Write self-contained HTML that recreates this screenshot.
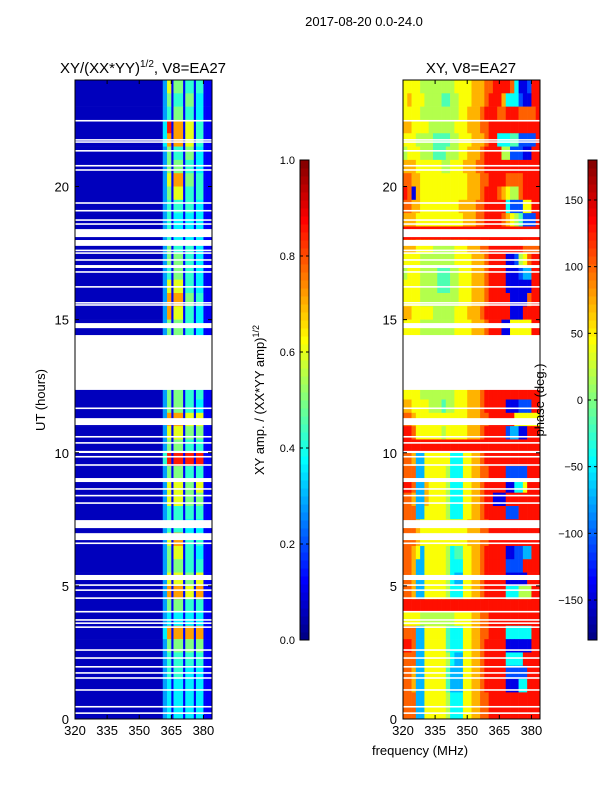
<!DOCTYPE html>
<html><head><meta charset="utf-8">
<style>
body{margin:0;background:#fff;}
svg text{font-family:"Liberation Sans",sans-serif;fill:#000;}
</style></head>
<body>
<svg id="fig" xmlns="http://www.w3.org/2000/svg" width="600" height="800" viewBox="0 0 600 800">
<rect width="600" height="800" fill="#fff"/>
<text x="364" y="26" font-size="13" text-anchor="middle">2017-08-20 0.0-24.0</text>
<text x="143" y="73" font-size="15" text-anchor="middle">XY/(XX*YY)<tspan font-size="10" dy="-6">1/2</tspan><tspan dy="6">, V8=EA27</tspan></text>
<text x="471" y="73" font-size="15" text-anchor="middle">XY, V8=EA27</text>
<text x="0" y="0" font-size="13" text-anchor="middle" transform="translate(45,400) rotate(-90)">UT (hours)</text>
<text x="420" y="755" font-size="13" text-anchor="middle">frequency (MHz)</text>
<text x="0" y="0" font-size="13" text-anchor="middle" transform="translate(264,400) rotate(-90)">XY amp. / (XX*YY amp)<tspan font-size="9" dy="-5">1/2</tspan></text>
<g id="ampPanel"></g>
<g id="phasePanel"></g>
<g id="cbars"></g>
<text x="0" y="0" font-size="13" text-anchor="middle" transform="translate(544,400) rotate(-90)">phase (deg.)</text>
</svg>
<script>
// ---- data ----
const ampFreqEdges = [320,361,363,365,366,370.5,371.5,375.5,376.5,380,381,384];
const ampRows = [ // top (23.5-24h) to bottom (0-0.5h), digit code
"03716151511","03615161411","03516151411","04918171511","04818171511","03615161411",
"03616151411","03718161511","03617151511","03515151411","03514141411","03514141411",
"03615151411","03616151411","03516151411","03717151411","03818161511","03817151411",
"03616151411","03616151411","03616151411","03616151411","03617151611","03616151511",
"03616151411","03818171711","03717161611","03616151511","05919191911","03616151511",
"03717161711","03717161611","03515151511","03515141411","03718151511","03617151411",
"03616151511","03717161711","03818171811","03616151511","03414141411","04818181811",
"03616161611","03515151511","03515141411","03414141411","03414141411","03414141411"];
const phaseRows = [ // 2 MHz channels 320-384, digit code of phase
"66665555555566667778899998300199","67666555544556667778999733310099","66665555555556677789998899988889",
"77666655555566677788999999999999","66655554444556667778993334411119","56665554445556677789999551110099",
"77766666655666777889999999999999","88776666666666677788999988889999","98076666666666677789998765589999",
"88776666666667777889999931116699","77766666666666777889999876541119","99999999999999999999999999999999",
"77766665555566677788999999998888","66665555555566667778999900156899","56665555444556667778999900012299",
"66665555444556667778999900000099","66665555555556667778999990000899","77666665555566677789999990009999",
"66665555555566667778999006666699","66665555555566667778999006666699","66665555555566667778999006666699",
"66665555555566667778999006666699","66665555555566667778999006666699","66665555555566677789999999999999",
"77666655545566677789999900011199","88766666666666677788999999666666","99866666656666677789999912200999",
"99999999999999999999999999999999","88722666666333667789999999999999","88822666665333667788999911111999",
"99822766665333667789999900336999","88722766665333667789900099999999","88822666665333667789999911199999",
"88876666666666677788999999999999","88876666666666677788999999999999","88762666665344667789999900112299",
"88722666665333667789999911119999","88722666665322667789999900000999","88722666665333667789999933355599",
"99999999999999999999999999999999","66665555555566667788999999999999","88822666664333667788999933333399",
"99822666664333667789999900000099","88822666665322667789999933339999","88722666664222667789999911111999",
"88722666664222667789999900033999","88822666665333667788999999999999","88822666665333667788999999999999"];
const flags = [[22.44,22.5],[21.72,21.78],[21.64,21.7],[21.31,21.37],[20.75,20.81],[20.59,20.65],
[19.35,19.41],[19.06,19.12],[18.71,18.77],[18.56,18.62],[18.1,18.4],[17.77,17.99],[17.57,17.63],
[17.47,17.53],[17.21,17.27],[16.94,17.05],[16.76,16.82],[16.2,16.26],[15.6,15.66],[15.52,15.58],
[14.68,14.87],[12.36,14.42],[11.64,11.7],[11.04,11.3],[10.57,10.63],[10.34,10.4],[9.99,10.07],
[9.82,9.88],[9.51,9.57],[8.9,9.05],[8.61,8.67],[8.36,8.42],[8.08,8.14],[7.17,7.47],[6.72,6.98],
[6.57,6.63],[5.22,5.41],[5.0,5.06],[4.81,4.87],[4.51,4.57],[4.0,4.06],[3.69,3.75],[3.57,3.63],
[3.42,3.48],[2.56,2.62],[2.26,2.32],[1.93,1.99],[1.7,1.76],[1.51,1.57],[1.06,1.12],[0.43,0.49],[0.19,0.25]];
const xTicks = [320,335,350,365,380];
const yTicks = [0,5,10,15,20];
const ampCbTicks = ["0.0","0.2","0.4","0.6","0.8","1.0"];
const phaseCbTicks = [-150,-100,-50,0,50,100,150];
const ampLevels = [0.06,0.12,0.2,0.28,0.36,0.42,0.5,0.6,0.72,0.85];
const phaseLevels = [0.1,0.2,0.3,0.38,0.45,0.55,0.62,0.7,0.78,0.86];

// ---- geometry ----
const NS="http://www.w3.org/2000/svg";
const Y0=719, Y1=80;
const yScale=h=>Y0-(h/24)*(Y0-Y1);
function xScaleFor(L,R){return f=>L+(f-320)/(384-320)*(R-L);}
function jet(v){v=Math.max(0,Math.min(1,v));
 const r=Math.max(0,Math.min(1,Math.min(4*v-1.5,-4*v+4.5)));
 const g=Math.max(0,Math.min(1,Math.min(4*v-0.5,-4*v+3.5)));
 const b=Math.max(0,Math.min(1,Math.min(4*v+0.5,-4*v+2.5)));
 return `rgb(${Math.round(r*255)},${Math.round(g*255)},${Math.round(b*255)})`;}
function mk(parent,tag,attrs){const e=document.createElementNS(NS,tag);for(const k in attrs)e.setAttribute(k,attrs[k]);parent.appendChild(e);return e;}

function drawPanel(g,L,R,edges,rows,valFn,prefix){
 const xs=xScaleFor(L,R);
 rows.forEach((row,i)=>{
  const hTop=24-0.5*i, hBot=hTop-0.5;
  for(let j=0;j<row.length;j++){
   const f0=edges(j), f1=edges(j+1);
   const r=mk(g,'rect',{x:xs(f0),y:yScale(hTop),width:xs(f1)-xs(f0)+0.3,height:yScale(hBot)-yScale(hTop)+0.3,fill:jet(valFn(+row[j]))});
   
   
  }
 });
 flags.forEach(fl=>{
  const r=mk(g,'rect',{x:L,y:yScale(fl[1]),width:R-L,height:Math.max(1.2,yScale(fl[0])-yScale(fl[1])),fill:'#fff'});
  
  
 });
 mk(g,'rect',{x:L,y:Y1,width:R-L,height:Y0-Y1,fill:'none',stroke:'#000','stroke-width':1});
 xTicks.forEach(t=>{
  const x=xs(t);
  mk(g,'line',{x1:x,x2:x,y1:Y0,y2:Y0-4,stroke:'#000'});
  mk(g,'line',{x1:x,x2:x,y1:Y1,y2:Y1+4,stroke:'#000'});
  const tx=mk(g,'text',{x:x,y:Y0+16,'font-size':13,'text-anchor':'middle'});tx.textContent=t;
  
  
 });
 yTicks.forEach(t=>{
  const y=yScale(t);
  mk(g,'line',{x1:L,x2:L+4,y1:y,y2:y,stroke:'#000'});
  mk(g,'line',{x1:R,x2:R-4,y1:y,y2:y,stroke:'#000'});
  const tx=mk(g,'text',{x:L-6,y:y+5,'font-size':13,'text-anchor':'end'});tx.textContent=t;
  
  
 });
}
drawPanel(document.getElementById('ampPanel'),75,212,j=>ampFreqEdges[j],ampRows,d=>ampLevels[d],'amp');
drawPanel(document.getElementById('phasePanel'),403,540,j=>320+2*j,phaseRows,d=>phaseLevels[d],'phase');

function colorbar(g,x,w,labels,vals,vmin,vmax,name){
 const top=160,bot=640,n=60;
 for(let i=0;i<n;i++){
  const v=(i+0.5)/n;
  mk(g,'rect',{x:x,y:bot-(i+1)*(bot-top)/n,width:w,height:(bot-top)/n+0.5,fill:jet(v)});
 }
 mk(g,'rect',{x:x,y:top,width:w,height:bot-top,fill:'none',stroke:'#000'});
 labels.forEach((lb,i)=>{
  const y=bot-(vals[i]-vmin)/(vmax-vmin)*(bot-top);
  mk(g,'line',{x1:x,x2:x+3,y1:y,y2:y,stroke:'#000'});
  mk(g,'line',{x1:x+w,x2:x+w-3,y1:y,y2:y,stroke:'#000'});
  const t=mk(g,'text',{x:x-5,y:y+4,'font-size':11,'text-anchor':'end'});t.textContent=lb;
  
  
 });
}
const cb=document.getElementById('cbars');
colorbar(cb,300,9,ampCbTicks,ampCbTicks.map(Number),0,1,'amp-colorbar');
colorbar(cb,588,9,phaseCbTicks.map(v=>v<0?'\u2212'+(-v):String(v)),phaseCbTicks,-180,180,'phase-colorbar');
</script>
</body></html>
